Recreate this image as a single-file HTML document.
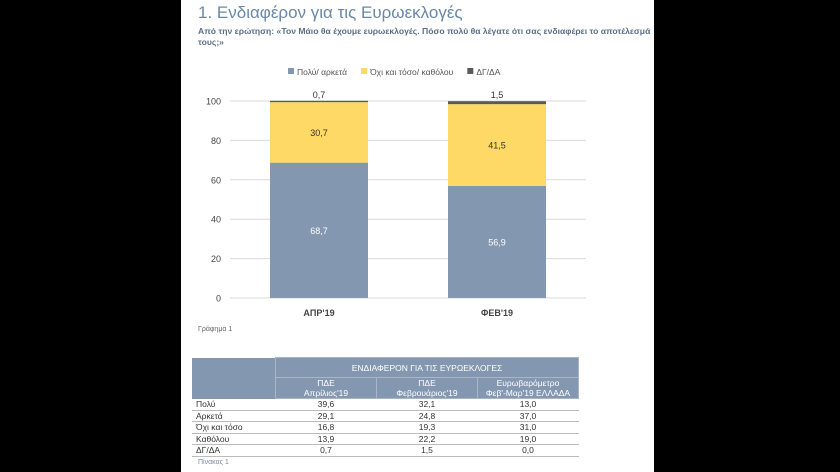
<!DOCTYPE html>
<html><head><meta charset="utf-8"><style>
body{margin:0;width:840px;height:472px;background:#000;overflow:hidden;font-family:"Liberation Sans",sans-serif;position:relative}
#page{position:absolute;left:181px;top:0;width:473px;height:472px;background:#fff}
.t{position:absolute;white-space:nowrap}
table{border-collapse:collapse;position:absolute;left:11px;top:357px;font-size:8.5px;color:#333}
td{padding:0 4px;height:10.5px;line-height:10px;text-align:center;border-bottom:1px solid #bbb}
td.l{text-align:left;width:75px}
.h td{background:#8497b0;color:#fff;border:1px solid #aab5c5}
</style></head><body>
<div id="page">
<div class="t" style="left:17px;top:3px;font-size:17px;color:#6a87a8">1. Ενδιαφέρον για τις Ευρωεκλογές</div>
<div class="t" style="left:17px;top:26px;font-size:8.6px;font-weight:bold;color:#5b6f88;line-height:11px;white-space:normal;width:460px">Από την ερώτηση: «Τον Μάιο θα έχουμε ευρωεκλογές. Πόσο πολύ θα λέγατε ότι σας ενδιαφέρει το αποτέλεσμά τους;»</div>
<svg id="chart" width="473" height="340" style="position:absolute;left:0;top:0"></svg>
<div class="t" style="left:17px;top:326px;font-size:7px;color:#666">Γράφημα 1</div>
<table>
<tr class="h"><td style="background:#fff;border:none;width:75px;background:#8497b0" rowspan="2"></td><td colspan="3" style="height:19px">ΕΝΔΙΑΦΕΡΟΝ ΓΙΑ ΤΙΣ ΕΥΡΩΕΚΛΟΓΕΣ</td></tr>
<tr class="h"><td style="width:92px;height:20px">ΠΔΕ<br>Απρίλιος'19</td><td style="width:92px">ΠΔΕ<br>Φεβρουάριος'19</td><td style="width:92px">Ευρωβαρόμετρο<br>Φεβ'-Μαρ'19 ΕΛΛΑΔΑ</td></tr>
<tr><td class="l">Πολύ</td><td>39,6</td><td>32,1</td><td>13,0</td></tr>
<tr><td class="l">Αρκετά</td><td>29,1</td><td>24,8</td><td>37,0</td></tr>
<tr><td class="l">Όχι και τόσο</td><td>16,8</td><td>19,3</td><td>31,0</td></tr>
<tr><td class="l">Καθόλου</td><td>13,9</td><td>22,2</td><td>19,0</td></tr>
<tr><td class="l">ΔΓ/ΔΑ</td><td>0,7</td><td>1,5</td><td>0,0</td></tr>
</table>
<div class="t" style="left:17px;top:459px;font-size:7px;color:#7a8aa0">Πίνακας 1</div>
</div>
<script>
const categories=["ΑΠΡ'19","ΦΕΒ'19"];
const seriesNames=["Πολύ/ αρκετά","Όχι και τόσο/ καθόλου","ΔΓ/ΔΑ"];
const seriesA=[68.7,56.9];
const seriesB=[30.7,41.5];
const seriesC=[0.7,1.5];
const yTicks=[0,20,40,60,80,100];
const colors=["#8497b0","#ffd966","#5a5a5a"];
const svg=document.getElementById('chart');const NS="http://www.w3.org/2000/svg";
const y=v=>298-v*1.97;const x0=49,x1=405;const band=(x1-x0)/categories.length;
function mk(t,a,txt){const e=document.createElementNS(NS,t);for(const k in a)e.setAttribute(k,a[k]);if(txt!=null)e.textContent=txt;svg.appendChild(e);return e;}
yTicks.forEach(v=>{const g=mk('line',{x1:x0,x2:x1,y1:y(v),y2:y(v),stroke:'#d9d9d9','stroke-width':1});


const t=mk('text',{x:40,y:y(v)+3.5,'text-anchor':'end','font-size':9,fill:'#444'},v);

});
const series=[seriesA,seriesB,seriesC];
categories.forEach((c,i)=>{const cx=x0+band*(i+0.5);let base=0;
series.forEach((s,k)=>{const v=s[i];const r=mk('rect',{x:cx-49,width:98,y:y(base+v),height:v*1.97,fill:colors[k]});


let ly=k==2?y(100)-3:y(base+v/2)+3.5;
const lt=mk('text',{x:cx,y:ly,'text-anchor':'middle','font-size':9,fill:k==0?'#fff':'#333'},String(v).replace('.',','));


base+=v;});
const ct=mk('text',{x:cx,y:316,'text-anchor':'middle','font-size':9,'font-weight':'bold',fill:'#444'},c);

});
let lx=107;seriesNames.forEach((n,k)=>{const r=mk('rect',{x:lx,y:68,width:6,height:6,fill:colors[k]});


const t=mk('text',{x:lx+9,y:75,'font-size':8.5,fill:'#555'},n);


lx+=9+t.getComputedTextLength()+14;});
</script>
</body></html>
